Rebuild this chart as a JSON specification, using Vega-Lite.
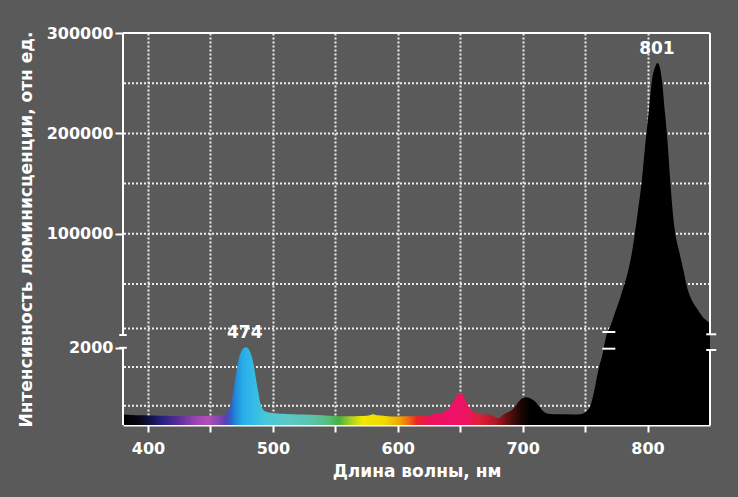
{
  "$schema": "https://vega.github.io/schema/vega-lite/v6.json",
  "width": 587,
  "height": 392,
  "autosize": {"type": "none"},
  "padding": {"left": 123, "top": 33, "right": 28, "bottom": 72},
  "background": "#5a5a5a",
  "config": {
    "view": {"stroke": null},
    "font": "DejaVu Sans",
    "axis": {
      "labelFont": "DejaVu Sans",
      "labelFontWeight": "bold",
      "labelFontSize": 16,
      "labelColor": "#ffffff",
      "titleFont": "DejaVu Sans",
      "titleFontWeight": "bold",
      "titleFontSize": 17,
      "titleColor": "#ffffff",
      "tickColor": "#ffffff",
      "tickWidth": 2,
      "domainColor": "#ffffff",
      "domainWidth": 2
    }
  },
  "datasets": {
    "spectrum": [
      {"wl": 380, "v": 270}, {"wl": 383, "v": 265}, {"wl": 386, "v": 260}, {"wl": 390, "v": 255},
      {"wl": 395, "v": 250}, {"wl": 400, "v": 245}, {"wl": 410, "v": 240}, {"wl": 420, "v": 235},
      {"wl": 430, "v": 235}, {"wl": 440, "v": 235}, {"wl": 450, "v": 240}, {"wl": 455, "v": 245},
      {"wl": 460, "v": 255}, {"wl": 463, "v": 290}, {"wl": 465, "v": 420}, {"wl": 467, "v": 650},
      {"wl": 468.5, "v": 900}, {"wl": 469.7, "v": 1165}, {"wl": 471, "v": 1420}, {"wl": 472.4, "v": 1680},
      {"wl": 474, "v": 1850}, {"wl": 475.5, "v": 1950}, {"wl": 477, "v": 2000}, {"wl": 478.3, "v": 2015},
      {"wl": 480, "v": 1990}, {"wl": 481.7, "v": 1900}, {"wl": 483, "v": 1780}, {"wl": 484.4, "v": 1600},
      {"wl": 485.7, "v": 1350}, {"wl": 487, "v": 1090}, {"wl": 488.5, "v": 820}, {"wl": 489.7, "v": 600},
      {"wl": 491, "v": 470}, {"wl": 492.4, "v": 390}, {"wl": 495, "v": 340}, {"wl": 497.8, "v": 320},
      {"wl": 502, "v": 305}, {"wl": 506, "v": 290}, {"wl": 511, "v": 285}, {"wl": 520, "v": 270},
      {"wl": 530, "v": 265}, {"wl": 540, "v": 250}, {"wl": 550, "v": 230}, {"wl": 560, "v": 225},
      {"wl": 570, "v": 230}, {"wl": 575, "v": 240}, {"wl": 578, "v": 260}, {"wl": 580.6, "v": 277},
      {"wl": 583, "v": 250}, {"wl": 590, "v": 235}, {"wl": 600, "v": 220}, {"wl": 610, "v": 225},
      {"wl": 620, "v": 230}, {"wl": 625, "v": 250}, {"wl": 630, "v": 290}, {"wl": 634, "v": 300},
      {"wl": 638, "v": 360}, {"wl": 642, "v": 475}, {"wl": 645, "v": 640}, {"wl": 647.4, "v": 777},
      {"wl": 649, "v": 820}, {"wl": 650.6, "v": 825}, {"wl": 652, "v": 790}, {"wl": 654, "v": 650},
      {"wl": 656, "v": 520}, {"wl": 658, "v": 430}, {"wl": 660, "v": 360}, {"wl": 663.4, "v": 300},
      {"wl": 667, "v": 280}, {"wl": 671.4, "v": 265}, {"wl": 674, "v": 270}, {"wl": 677, "v": 220},
      {"wl": 680.7, "v": 175}, {"wl": 683, "v": 230}, {"wl": 686, "v": 300}, {"wl": 688.5, "v": 340},
      {"wl": 691.4, "v": 390}, {"wl": 694, "v": 480}, {"wl": 696.7, "v": 600}, {"wl": 699, "v": 680},
      {"wl": 702, "v": 717}, {"wl": 705, "v": 705}, {"wl": 707.4, "v": 665}, {"wl": 709.5, "v": 620},
      {"wl": 711.4, "v": 560}, {"wl": 713.5, "v": 470}, {"wl": 715.4, "v": 390}, {"wl": 717.5, "v": 330},
      {"wl": 719.5, "v": 300}, {"wl": 725, "v": 280}, {"wl": 730, "v": 277}, {"wl": 740, "v": 275},
      {"wl": 746, "v": 280}, {"wl": 750, "v": 330}, {"wl": 752, "v": 390}, {"wl": 754, "v": 475},
      {"wl": 756, "v": 700}, {"wl": 757.4, "v": 900}, {"wl": 759.5, "v": 1250}, {"wl": 761.5, "v": 1550},
      {"wl": 763.5, "v": 1770}, {"wl": 765.5, "v": 2100}, {"wl": 767.5, "v": 2375}, {"wl": 769, "v": 2480},
      {"wl": 770.5, "v": 9000}, {"wl": 772.8, "v": 17450}, {"wl": 774.2, "v": 22440}, {"wl": 777, "v": 32000},
      {"wl": 780.8, "v": 47350}, {"wl": 783, "v": 56000}, {"wl": 785, "v": 66000}, {"wl": 788, "v": 85000},
      {"wl": 790, "v": 102000}, {"wl": 792, "v": 120000}, {"wl": 795.4, "v": 153000}, {"wl": 798, "v": 187000},
      {"wl": 800.8, "v": 220000}, {"wl": 803.5, "v": 253000}, {"wl": 806, "v": 266000}, {"wl": 808, "v": 270000},
      {"wl": 810, "v": 265000}, {"wl": 811.5, "v": 253000}, {"wl": 814, "v": 220000}, {"wl": 816.3, "v": 187000},
      {"wl": 818.1, "v": 154000}, {"wl": 820.3, "v": 120000}, {"wl": 822, "v": 102000}, {"wl": 825, "v": 84000},
      {"wl": 828.7, "v": 64000}, {"wl": 831.6, "v": 47000}, {"wl": 835, "v": 35000}, {"wl": 839.6, "v": 25500},
      {"wl": 844, "v": 17500}, {"wl": 849, "v": 12000}, {"wl": 850, "v": 11000}
    ],
    "grid": [
      {"v": 500}, {"v": 1500}, {"v": 2500}, {"v": 50000}, {"v": 100000},
      {"v": 150000}, {"v": 200000}, {"v": 250000}
    ],
    "frame": [
      {"x1": 380, "x2": 380, "y1": 0, "y2": 2000},
      {"x1": 380, "x2": 380, "y1": 2332, "y2": 300000},
      {"x1": 850, "x2": 850, "y1": 0, "y2": 1943},
      {"x1": 850, "x2": 850, "y1": 2350, "y2": 300000},
      {"x1": 380, "x2": 850, "y1": 300000, "y2": 300000},
      {"x1": 377, "x2": 383, "y1": 2000, "y2": 2000},
      {"x1": 377, "x2": 383, "y1": 2332, "y2": 2332},
      {"x1": 763.8, "x2": 774.2, "y1": 2409, "y2": 2409},
      {"x1": 763.8, "x2": 774.2, "y1": 1977, "y2": 1977},
      {"x1": 847, "x2": 855, "y1": 2350, "y2": 2350},
      {"x1": 847, "x2": 855, "y1": 1943, "y2": 1943}
    ],
    "peaks": [
      {"wl": 477.5, "v": 2015, "label": "474"},
      {"wl": 807.5, "v": 270000, "label": "801"}
    ]
  },
  "layer": [
    {
      "data": {"name": "grid"},
      "mark": {"type": "rule", "color": "#eeeeee", "strokeWidth": 2, "strokeDash": [2, 2]},
      "encoding": {
        "y": {
          "field": "v",
          "type": "quantitative",
          "scale": {
            "domain": [0, 2500, 5683, 300000],
            "range": [392, 295.5, 295.5, 0],
            "nice": false,
            "zero": false
          },
          "axis": {
            "title": "Интенсивность люминисценции, отн ед.",
            "values": [2000, 100000, 200000, 300000],
            "format": "d",
            "domain": false,
            "grid": false,
            "tickSize": 8,
            "labelPadding": 2,
            "titlePadding": 11
          }
        }
      }
    },
    {
      "data": {"name": "spectrum"},
      "mark": {
        "type": "area",
        "interpolate": "monotone",
        "color": {
          "gradient": "linear",
          "x1": 0, "y1": 0, "x2": 1, "y2": 0,
          "stops": [
            {"offset": 0, "color": "#000000"},
            {"offset": 0.0255, "color": "#05050f"},
            {"offset": 0.0468, "color": "#12124a"},
            {"offset": 0.068, "color": "#2a2280"},
            {"offset": 0.0957, "color": "#5a2f98"},
            {"offset": 0.1234, "color": "#9a44b0"},
            {"offset": 0.1447, "color": "#b050b8"},
            {"offset": 0.1617, "color": "#8a46b0"},
            {"offset": 0.1745, "color": "#5a40b0"},
            {"offset": 0.183, "color": "#2e5ec8"},
            {"offset": 0.1915, "color": "#2288d8"},
            {"offset": 0.2043, "color": "#28aee8"},
            {"offset": 0.2234, "color": "#34bce8"},
            {"offset": 0.2447, "color": "#48c8d8"},
            {"offset": 0.2766, "color": "#5ac8c8"},
            {"offset": 0.3191, "color": "#5ac4b0"},
            {"offset": 0.3511, "color": "#58bc78"},
            {"offset": 0.3681, "color": "#48b040"},
            {"offset": 0.3872, "color": "#a8d020"},
            {"offset": 0.4085, "color": "#f0e800"},
            {"offset": 0.4468, "color": "#f0d800"},
            {"offset": 0.4681, "color": "#f0b000"},
            {"offset": 0.4851, "color": "#f07010"},
            {"offset": 0.5, "color": "#e82828"},
            {"offset": 0.5213, "color": "#e81458"},
            {"offset": 0.5532, "color": "#f0106a"},
            {"offset": 0.5851, "color": "#ee1460"},
            {"offset": 0.6064, "color": "#e02038"},
            {"offset": 0.634, "color": "#b01828"},
            {"offset": 0.6553, "color": "#601010"},
            {"offset": 0.6766, "color": "#200606"},
            {"offset": 0.6936, "color": "#000000"},
            {"offset": 1, "color": "#000000"}
          ]
        }
      },
      "encoding": {
        "x": {
          "field": "wl",
          "type": "quantitative",
          "scale": {"domain": [380, 850], "nice": false, "zero": false},
          "axis": {
            "title": "Длина волны, нм",
            "values": [400, 450, 500, 550, 600, 650, 700, 750, 800],
            "labelExpr": "datum.value % 100 === 0 ? datum.label : ''",
            "format": "d",
            "tickSize": 7,
            "labelPadding": 8,
            "titlePadding": 7,
            "grid": true,
            "gridColor": "#eeeeee",
            "gridWidth": 2,
            "gridDash": [2, 2],
            "gridOpacity": 1
          }
        },
        "y": {"field": "v", "type": "quantitative"}
      }
    },
    {
      "data": {"name": "frame"},
      "mark": {"type": "rule", "color": "#ffffff", "strokeWidth": 2},
      "encoding": {
        "x": {"field": "x1", "type": "quantitative"},
        "x2": {"field": "x2"},
        "y": {"field": "y1", "type": "quantitative"},
        "y2": {"field": "y2"}
      }
    },
    {
      "data": {"name": "peaks"},
      "mark": {"type": "text", "color": "#ffffff", "font": "DejaVu Sans", "fontWeight": "bold", "fontSize": 17, "align": "center", "baseline": "alphabetic", "dy": -9},
      "encoding": {
        "x": {"field": "wl", "type": "quantitative"},
        "y": {"field": "v", "type": "quantitative"},
        "text": {"field": "label"}
      }
    }
  ]
}
